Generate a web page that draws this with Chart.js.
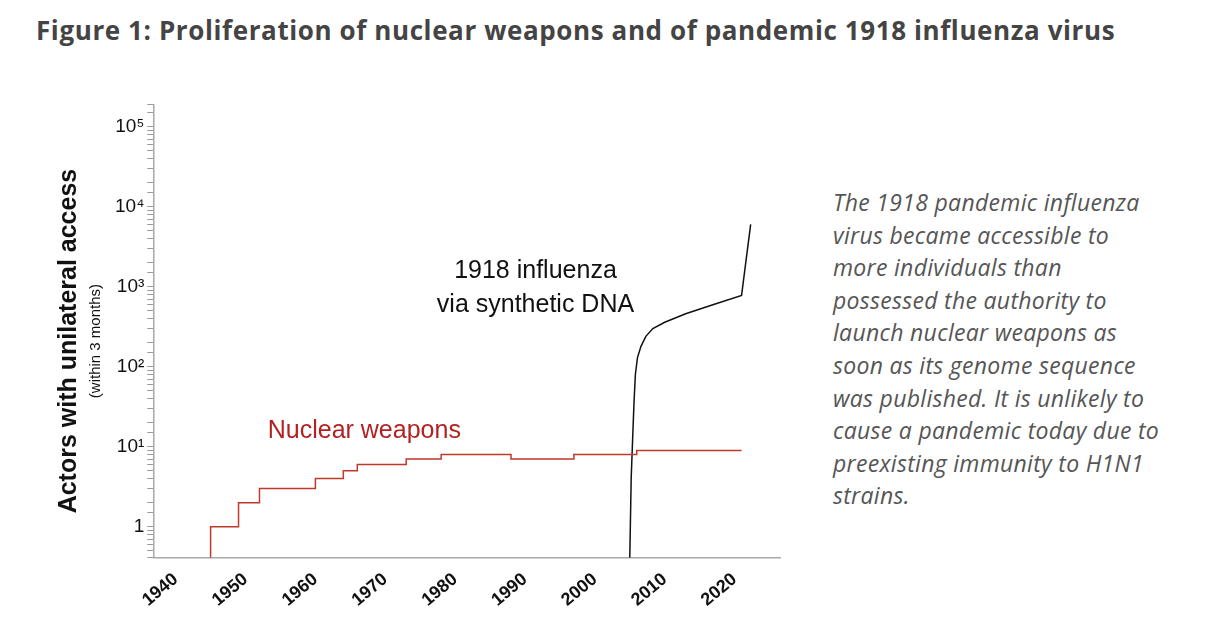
<!DOCTYPE html>
<html>
<head>
<meta charset="utf-8">
<script src="https://cdn.jsdelivr.net/npm/chart.js@4"></script>
<style>
  body { margin: 0; background: #fff; width: 1216px; height: 636px; overflow: hidden; position: relative; }
  #title { position: absolute; left: 36px; top: 12px; font: bold 26px "Open Sans", sans-serif; color: #444; letter-spacing: 0.6px; }
  #note { position: absolute; left: 833px; top: 186px; width: 330px; font: italic 23px "Open Sans", sans-serif; color: #555; line-height: 32.6px; letter-spacing: 0.3px; }
  #wrap { position: absolute; left: 40px; top: 90px; width: 760px; height: 546px; }
</style>
</head>
<body>
<div id="title">Figure 1: Proliferation of nuclear weapons and of pandemic 1918 influenza virus</div>
<div id="note">The 1918 pandemic influenza virus became accessible to more individuals than possessed the authority to launch nuclear weapons as soon as its genome sequence was published. It is unlikely to cause a pandemic today due to preexisting immunity to H1N1 strains.</div>
<div id="wrap"><canvas id="chart"></canvas></div>
<script>
// nuclear weapons: step values by year
var nukeYears = [1945, 1945, 1949, 1952, 1960, 1964, 1966, 1973, 1978, 1988, 1997, 2006, 2021];
var nukeCounts = [0.41, 1, 2, 3, 4, 5, 6, 7, 8, 7, 8, 9, 9];

// 1918 influenza via synthetic DNA
var fluYears = [2005, 2005.2, 2005.4, 2005.6, 2005.8, 2006.1, 2006.6, 2007.3, 2008.3, 2010, 2013, 2017, 2021, 2022.3];
var fluCounts = [0.41, 4, 12, 35, 80, 130, 180, 240, 300, 360, 460, 600, 780, 6000];

var yearTicks = [1940, 1950, 1960, 1970, 1980, 1990, 2000, 2010, 2020];
var sup = { 1: '\u00b9', 2: '\u00b2', 3: '\u00b3', 4: '\u2074', 5: '\u2075' };

function pts(xs, ys) {
    return xs.map(function (x, i) { return { x: x, y: ys[i] }; });
}

var labelsPlugin = {
    id: 'labels',
    afterDraw: function (chart) {
        var ctx = chart.ctx, xs = chart.scales.x, ys = chart.scales.y;
        ctx.save();
        ctx.textAlign = 'center';
        ctx.fillStyle = '#111';
        ctx.font = '25px "Liberation Sans", Arial, sans-serif';
        ctx.fillText('1918 influenza', xs.getPixelForValue(1991.5), ys.getPixelForValue(1300));
        ctx.fillText('via synthetic DNA', xs.getPixelForValue(1991.5), ys.getPixelForValue(480));
        ctx.fillStyle = '#b22222';
        ctx.fillText('Nuclear weapons', xs.getPixelForValue(1967), ys.getPixelForValue(13));
        // y axis titles
        ctx.translate(36, (chart.chartArea.top + chart.chartArea.bottom) / 2 + 10);
        ctx.rotate(-Math.PI / 2);
        ctx.fillStyle = '#111';
        ctx.font = 'bold 25px "Liberation Sans", Arial, sans-serif';
        ctx.fillText('Actors with unilateral access', 0, 0);
        ctx.font = '15px "Liberation Sans", Arial, sans-serif';
        ctx.fillText('(within 3 months)', 0, 24);
        ctx.restore();
    }
};

new Chart(document.getElementById('chart'), {
    type: 'line',
    data: {
        datasets: [{
            data: pts(nukeYears, nukeCounts),
            borderColor: '#c0392b',
            borderWidth: 1.5,
            stepped: 'before',
            pointRadius: 0
        }, {
            data: pts(fluYears, fluCounts),
            borderColor: '#111',
            borderWidth: 1.5,
            tension: 0,
            pointRadius: 0
        }]
    },
    options: {
        animation: false,
        responsive: true,
        maintainAspectRatio: false,
        layout: { padding: { left: 72, top: 10, right: 20, bottom: 22 } },
        plugins: { legend: { display: false }, tooltip: { enabled: false } },
        scales: {
            x: {
                type: 'linear',
                min: 1936.8,
                max: 2026.5,
                afterBuildTicks: function (axis) {
                    axis.ticks = yearTicks.map(function (v) { return { value: v }; });
                },
                grid: { display: false },
                border: { color: '#aaa', width: 1.5 },
                ticks: {
                    maxRotation: 40, minRotation: 40,
                    color: '#111',
                    callback: function (v) { return String(v); },
                    font: { size: 18, weight: 'bold', family: '"Liberation Sans", Arial, sans-serif' }
                }
            },
            y: {
                type: 'logarithmic',
                min: 0.41,
                max: 190000,
                grid: { drawOnChartArea: false, tickLength: 6, color: '#999' },
                border: { color: '#aaa', width: 1.5 },
                ticks: {
                    autoSkip: false,
                    color: '#111',
                    font: { size: 19, family: '"Liberation Sans", Arial, sans-serif' },
                    callback: function (v) {
                        var e = Math.log10(v);
                        if (Math.abs(e - Math.round(e)) > 1e-9) return '';
                        e = Math.round(e);
                        if (e === 0) return '1';
                        return '10' + sup[e];
                    }
                }
            }
        }
    },
    plugins: [labelsPlugin]
});
</script>
</body>
</html>
